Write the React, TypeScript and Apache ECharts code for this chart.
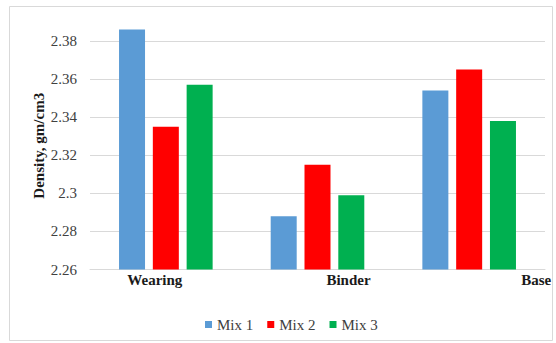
import React, { useEffect, useRef } from "react";
import * as echarts from "echarts";

// Layer densities per mix
const categories = ["Wearing", "Binder", "Base"];
const mix1 = [2.386, 2.288, 2.354];
const mix2 = [2.335, 2.315, 2.365];
const mix3 = [2.357, 2.299, 2.338];
const seriesNames = ["Mix 1", "Mix 2", "Mix 3"];
const colors = ["#5B9BD5", "#FF0000", "#00B050"];

const SERIF = "Times New Roman";

export default function App() {
  const ref = useRef<HTMLDivElement>(null);

  useEffect(() => {
    if (!ref.current) return;
    const chart = echarts.init(ref.current, undefined, { renderer: "svg" });
    const values = [mix1, mix2, mix3];
    const richKeys = ["w", "b", "c"];
    const catStyle = { fontFamily: SERIF, fontSize: 15, fontWeight: "bold", color: "#1a1a1a" };
    chart.setOption({
      animation: false,
      backgroundColor: "#ffffff",
      textStyle: { fontFamily: SERIF },
      graphic: [
        {
          type: "rect",
          shape: { x: 9.5, y: 6.5, width: 543, height: 334 },
          style: { fill: "none", stroke: "#d9d9d9", lineWidth: 1 },
          silent: true,
        },
      ],
      grid: { left: 90, right: 11, top: 22, bottom: 73.5 },
      legend: {
        data: seriesNames,
        top: 312,
        left: 200,
        icon: "rect",
        itemWidth: 7,
        itemHeight: 7,
        itemGap: 14,
        textStyle: { fontFamily: SERIF, fontSize: 15, color: "#404040" },
      },
      xAxis: {
        type: "category",
        data: categories,
        axisLine: { lineStyle: { color: "#d9d9d9" } },
        axisTick: { show: false },
        axisLabel: {
          margin: 3,
          interval: 0,
          fontFamily: SERIF,
          fontSize: 15,
          fontWeight: "bold",
          formatter: (v: string, i: number) => `{${richKeys[i]}|${v}}`,
          rich: {
            w: { ...catStyle, padding: [0, 22, 0, 0] },
            b: { ...catStyle, padding: [0, 0, 0, 62] },
            c: { ...catStyle, padding: [0, 0, 0, 134] },
          },
        },
      },
      yAxis: {
        type: "value",
        min: 2.26,
        max: 2.39,
        interval: 0.02,
        name: "Density, gm/cm3",
        nameLocation: "middle",
        nameGap: 44,
        nameMoveOverlap: false,
        nameTextStyle: { fontFamily: SERIF, fontSize: 15, fontWeight: "bold", color: "#1a1a1a" },
        axisLine: { show: false },
        axisTick: { show: false },
        axisLabel: {
          margin: 13,
          showMaxLabel: false,
          fontFamily: SERIF,
          fontSize: 15,
          color: "#404040",
          formatter: (v: number) => String(parseFloat(v.toFixed(2))),
        },
        splitLine: { showMaxLine: false, lineStyle: { color: "#d9d9d9" } },
      },
      series: seriesNames.map((name, i) => ({
        name,
        type: "bar",
        data: values[i],
        barWidth: 26,
        barGap: "30%",
        itemStyle: { color: colors[i] },
      })),
    });
    return () => chart.dispose();
  }, []);

  return (
    <div
      ref={ref}
      style={{ position: "fixed", left: 0, top: 0, width: 556, height: 343 }}
    />
  );
}
